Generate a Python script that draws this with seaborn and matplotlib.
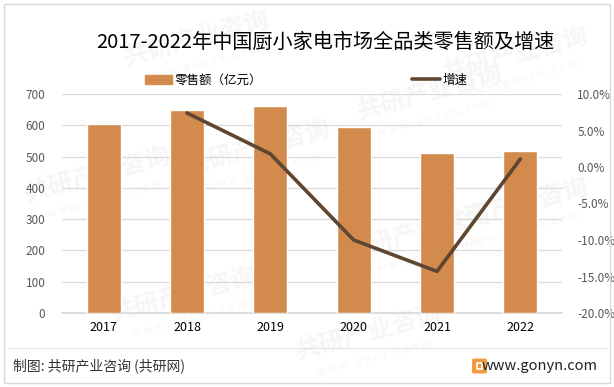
import numpy as np
import pandas as pd
import seaborn as sns
from matplotlib import pyplot as plt
from matplotlib.patches import Rectangle, FancyBboxPatch
from matplotlib.lines import Line2D
from matplotlib.ticker import FuncFormatter

# data
years = ["2017", "2018", "2019", "2020", "2021", "2022"]
retail = [604, 649, 662, 594, 511, 518]          # 零售额（亿元）
growth = [np.nan, 7.4, 1.8, -10.0, -14.3, 1.1]   # 增速 (%)

bar_color = "#D38B4D"
line_color = "#5E4630"

sns.set_theme(style="white")
plt.rcParams['font.family'] = ['Noto Sans CJK SC', 'DejaVu Sans']

fig = plt.figure(figsize=(6.14, 3.87), dpi=100)
ax = fig.add_axes([62 / 614, 1 - 313 / 387, 500 / 614, 219 / 387])

# faint watermarks behind everything
for (wx, wy) in [(0.32, 0.90), (0.16, 0.55), (0.42, 0.62), (0.70, 0.76),
                 (0.68, 0.40), (0.30, 0.24), (0.84, 0.86), (0.84, 0.47),
                 (0.60, 0.14)]:
    fig.text(wx, wy, "共研产业咨询", fontsize=18, fontweight="bold", color="#F6F6F6",
             rotation=15, ha="center", va="center", zorder=-5)
    fig.text(wx + 0.01, wy - 0.065, "w w w . g o n y n . c o m", fontsize=8,
             color="#F6F6F6", rotation=15, ha="center", va="center", zorder=-5)

df = pd.DataFrame({"year": years, "retail": retail})
sns.barplot(data=df, x="year", y="retail", color=bar_color, saturation=1,
            width=0.41, ax=ax, zorder=3)
ax.set_ylim(0, 700)
ax.set_yticks(range(0, 701, 100))
ax.set_xlim(-0.5, 5.5)
ax.set_xlabel("")
ax.set_ylabel("")
ax.patch.set_alpha(0)
ax.grid(axis="y", color="#D9D9D9", linewidth=0.9, zorder=0)
ax.set_axisbelow(True)
for s in ax.spines.values():
    s.set_visible(False)
ax.spines["bottom"].set_visible(True)
ax.spines["bottom"].set_color("#D9D9D9")
ax.tick_params(axis="y", length=0, labelsize=8.5, labelcolor="#595959", pad=12)
ax.tick_params(axis="x", length=0, labelsize=9, labelcolor="#000000", pad=6)

ax2 = ax.twinx()
sns.lineplot(x=np.arange(len(years)), y=growth, color=line_color, linewidth=2.6,
             ax=ax2, zorder=4)
ax2.set_ylim(-20, 10)
ax2.set_yticks(range(-20, 11, 5))
ax2.yaxis.set_major_formatter(FuncFormatter(lambda v, p: f"{v:.1f}%"))
ax2.set_xlim(-0.5, 5.5)
for s in ax2.spines.values():
    s.set_visible(False)
ax2.tick_params(axis="y", length=0, labelsize=8.5, labelcolor="#595959", pad=11)
ax2.set_ylabel("")

# title
fig.text(325 / 614, 1 - 42 / 387, "2017-2022年中国厨小家电市场全品类零售额及增速",
         fontsize=14.5, ha="center", va="center", color="#000000")

# legend
handles = [Rectangle((0, 0), 1, 1, color=bar_color),
           Line2D([0], [0], color=line_color, linewidth=2.6)]
fig.legend(handles, ["零售额（亿元）", "增速"], loc="center",
           bbox_to_anchor=(306 / 614, 1 - 80 / 387), ncol=2, frameon=False,
           fontsize=9, columnspacing=12, handlelength=2.2, handletextpad=0.2,
           labelcolor="#000000")

# footer
fig.add_artist(Line2D([8 / 614, 606 / 614], [1 - 348 / 387, 1 - 348 / 387],
                      color="#E6E6E6", linewidth=1, transform=fig.transFigure))
fig.text(13 / 614, 1 - 366 / 387, "制图: 共研产业咨询 (共研网)", fontsize=10,
         ha="left", va="center", color="#333333")
fig.text(598 / 614, 1 - 366 / 387, "www.gonyn.com", fontsize=10.5,
         ha="right", va="center", color="#222222")
fig.add_artist(FancyBboxPatch((474 / 614, 1 - 372 / 387), 11 / 614, 12 / 387,
                              boxstyle="round,pad=0.002", color="#F39A3C",
                              transform=fig.transFigure))
fig.add_artist(Rectangle((477 / 614, 1 - 369 / 387), 5 / 614, 6 / 387,
                         fill=False, edgecolor="white", linewidth=1.2,
                         transform=fig.transFigure))

# outer frame
fig.add_artist(Rectangle((4 / 614, 4 / 387), 606 / 614, 379 / 387, fill=False,
                         edgecolor="#D9D9D9", linewidth=1,
                         transform=fig.transFigure))

fig.savefig("out.png", dpi=100)
